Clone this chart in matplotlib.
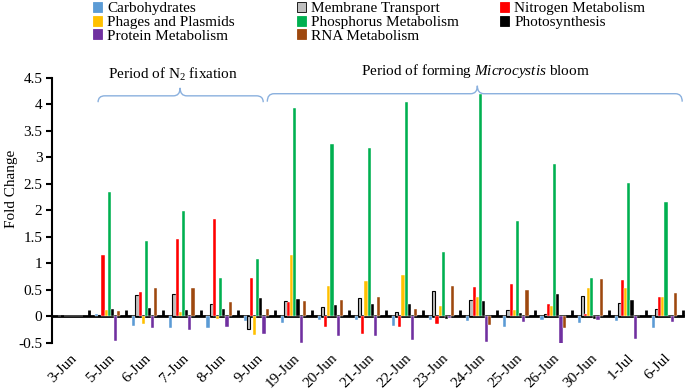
import matplotlib
matplotlib.use('Agg')
import matplotlib.pyplot as plt
import numpy as np
from matplotlib.patches import Patch, PathPatch
from matplotlib.path import Path
from matplotlib.ticker import FuncFormatter

plt.rcParams['font.family'] = 'Liberation Serif'
plt.rcParams['mathtext.fontset'] = 'custom'
plt.rcParams['mathtext.rm'] = 'Liberation Serif'
plt.rcParams['mathtext.it'] = 'Liberation Serif:italic'

dates = ['3-Jun', '5-Jun', '6-Jun', '7-Jun', '8-Jun', '9-Jun', '19-Jun', '20-Jun',
         '21-Jun', '22-Jun', '23-Jun', '24-Jun', '25-Jun', '26-Jun', '30-Jun',
         '1-Jul', '6-Jul']

carbohydrates = [0, 0.04, -0.18, -0.21, -0.21, -0.08, -0.13, -0.07, -0.07, -0.18,
                 -0.06, -0.08, -0.19, -0.06, -0.12, -0.08, -0.21]
membrane = [0, 0.03, 0.40, 0.42, 0.23, -0.24, 0.30, 0.17, 0.35, 0.09,
            0.48, 0.31, 0.13, 0.04, 0.39, 0.25, 0.14]
nitrogen = [0, 1.15, 0.47, 1.46, 1.84, 0.72, 0.28, -0.19, -0.33, -0.19,
            -0.14, 0.55, 0.61, 0.24, 0.05, 0.68, 0.36]
phages = [0, 0.13, -0.14, 0.09, -0.05, -0.35, 1.16, 0.58, 0.67, 0.78,
          0.19, 0.36, 0.13, 0.19, 0.53, 0.54, 0.36]
phosphorus = [0, 2.35, 1.43, 1.99, 0.72, 1.08, 3.93, 3.26, 3.17, 4.05,
              1.21, 4.19, 1.80, 2.88, 0.72, 2.52, 2.15]
photosynthesis = [0, 0.14, 0.16, 0.12, 0.14, 0.35, 0.33, 0.21, 0.23, 0.23,
                  -0.04, 0.30, 0.06, 0.42, -0.04, 0.31, 0]
protein = [0, -0.46, -0.22, -0.26, -0.20, -0.33, -0.50, -0.36, -0.37, -0.44,
           -0.03, -0.48, -0.11, -0.51, -0.07, -0.42, -0.11]
rna = [0, 0.11, 0.54, 0.53, 0.27, 0.15, 0.29, 0.32, 0.36, 0.15,
       0.58, -0.16, 0.50, -0.21, 0.70, 0, 0.45]

series = [
    ('Carbohydrates', carbohydrates, '#5B9BD5'),
    ('Membrane Transport', membrane, '#BFBFBF'),
    ('Nitrogen Metabolism', nitrogen, '#FF0000'),
    ('Phages and Plasmids', phages, '#FFC000'),
    ('Phosphorus Metabolism', phosphorus, '#00B050'),
    ('Photosynthesis', photosynthesis, '#000000'),
    ('Protein Metabolism', protein, '#7030A0'),
    ('RNA Metabolism', rna, '#9E480E'),
]

fig = plt.figure(figsize=(6.85, 3.9), dpi=100)
ax = fig.add_axes([0.076, 0.1205, 0.921, 0.68])

x = np.arange(len(dates))
w = 0.085
handles = {}
for i, (name, vals, col) in enumerate(series):
    off = (i - 3.5) * w
    if name == 'Membrane Transport':
        ax.bar(x + off, vals, w, color=col, edgecolor='black', linewidth=0.8, zorder=3)
    else:
        ax.bar(x + off, vals, w, color=col, edgecolor='white', linewidth=0.3, zorder=3)
    handles[name] = Patch(facecolor=col, edgecolor='black' if name == 'Membrane Transport' else col,
                          linewidth=0.6)

ax.set_xlim(-0.5, len(dates) - 0.5)
ax.set_ylim(-0.5, 4.5)
ax.set_yticks(np.arange(-0.5, 4.51, 0.5))
ax.yaxis.set_major_formatter(FuncFormatter(lambda v, p: '{:g}'.format(round(v, 1))))
ax.set_xticks(x)
ax.set_xticklabels(dates, rotation=45, ha='right', va='top', rotation_mode='anchor')
ax.tick_params(axis='x', length=0, pad=6, labelsize=11)
ax.tick_params(axis='y', length=4, width=1.5, direction='out', labelsize=11, pad=3)
for s in ['top', 'right', 'bottom']:
    ax.spines[s].set_visible(False)
ax.spines['left'].set_linewidth(1.5)
ax.set_ylabel('Fold Change', fontsize=11)
ax.yaxis.set_label_coords(-0.054, 0.58)

# zero line with category boundary ticks
sec = ax.secondary_xaxis(0.1)
sec.set_xticks(np.arange(0.5, len(dates), 1.0))
sec.tick_params(direction='in', length=4, width=2, labelbottom=False)
sec.spines['bottom'].set_linewidth(2)


def brace(x0, xm, x1, y, top, end, dx=0.18):
    verts = [(x0, end), (x0, y), (x0 + dx, y),
             (xm - dx, y), (xm, y), (xm, top),
             (xm, y), (xm + dx, y),
             (x1 - dx, y), (x1, y), (x1, end)]
    codes = [Path.MOVETO, Path.CURVE3, Path.CURVE3,
             Path.LINETO, Path.CURVE3, Path.CURVE3,
             Path.CURVE3, Path.CURVE3,
             Path.LINETO, Path.CURVE3, Path.CURVE3]
    ax.add_patch(PathPatch(Path(verts, codes), fill=False, edgecolor='#8AB0DE',
                           linewidth=1.0, clip_on=False, zorder=4))


brace(0.74, 2.95, 5.19, 4.16, 4.31, 4.04)
brace(5.30, 10.96, 16.48, 4.20, 4.35, 4.05)
ax.text(2.76, 4.56, 'Period of N$_2$ fixation', ha='center', va='center',
        fontsize=11, clip_on=False)
ax.text(10.9, 4.62, 'Period of forming $\\mathit{Microcystis}$ bloom', ha='center',
        va='center', fontsize=11, clip_on=False)

# legend: three columns placed like the original
columns = [
    (['Carbohydrates', 'Phages and Plasmids', 'Protein Metabolism'], 93),
    (['Membrane Transport', 'Phosphorus Metabolism', 'RNA Metabolism'], 297),
    (['Nitrogen Metabolism', 'Photosynthesis'], 500),
]
for names, px in columns:
    fig.legend([handles[n] for n in names], names, loc='upper left',
               bbox_to_anchor=(px / 685, 1 - 2 / 390), frameon=False, fontsize=11,
               handlelength=0.62, handleheight=0.62, handletextpad=0.3,
               labelspacing=0.02, borderpad=0, borderaxespad=0)

fig.savefig('out.png', dpi=100)
